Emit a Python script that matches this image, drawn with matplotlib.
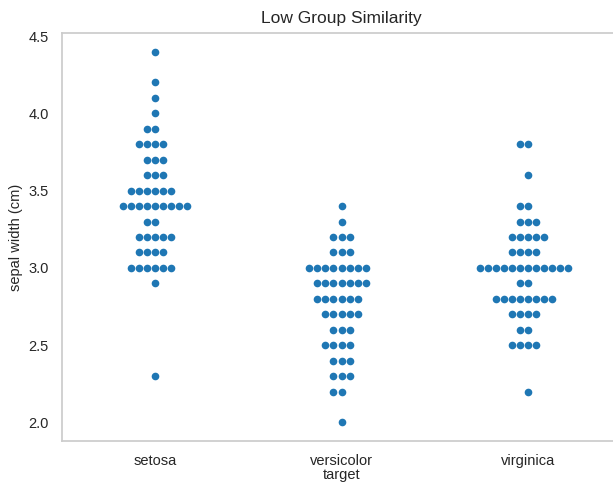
import pandas as pd
import matplotlib.pyplot as plt
import seaborn as sns

species = ["setosa", "versicolor", "virginica"]

setosa_sw = [3.5, 3.0, 3.2, 3.1, 3.6, 3.9, 3.4, 3.4, 2.9, 3.1, 3.7, 3.4, 3.0, 3.0, 4.0,
             4.4, 3.9, 3.5, 3.8, 3.8, 3.4, 3.7, 3.6, 3.3, 3.4, 3.0, 3.4, 3.5, 3.4, 3.2,
             3.1, 3.4, 4.1, 4.2, 3.1, 3.2, 3.5, 3.6, 3.0, 3.4, 3.5, 2.3, 3.2, 3.5, 3.8,
             3.0, 3.8, 3.2, 3.7, 3.3]
versicolor_sw = [3.2, 3.2, 3.1, 2.3, 2.8, 2.8, 3.3, 2.4, 2.9, 2.7, 2.0, 3.0, 2.2, 2.9, 2.9,
                 3.1, 3.0, 2.7, 2.2, 2.5, 3.2, 2.8, 2.5, 2.8, 2.9, 3.0, 2.8, 3.0, 2.9, 2.6,
                 2.4, 2.4, 2.7, 2.7, 3.0, 3.4, 3.1, 2.3, 3.0, 2.5, 2.6, 3.0, 2.6, 2.3, 2.7,
                 3.0, 2.9, 2.9, 2.5, 2.8]
virginica_sw = [3.3, 2.7, 3.0, 2.9, 3.0, 3.0, 2.5, 2.9, 2.5, 3.6, 3.2, 2.7, 3.0, 2.5, 2.8,
                3.2, 3.0, 3.8, 2.6, 2.2, 3.2, 2.8, 2.8, 2.7, 3.3, 3.2, 2.8, 3.0, 2.8, 3.0,
                2.8, 3.8, 2.8, 2.8, 2.6, 3.0, 3.4, 3.1, 3.0, 3.1, 3.1, 3.1, 2.7, 3.2, 3.3,
                3.0, 2.5, 3.0, 3.4, 3.0]

df = pd.DataFrame({
    "target": [species[0]] * len(setosa_sw) + [species[1]] * len(versicolor_sw)
              + [species[2]] * len(virginica_sw),
    "sepal width (cm)": setosa_sw + versicolor_sw + virginica_sw,
})

sns.set_theme(style="whitegrid")
plt.rcParams["font.family"] = ["Liberation Sans", "DejaVu Sans"]

fig = plt.figure(figsize=(6.13, 4.83), dpi=100)
ax = fig.add_axes([62 / 613, 42 / 483, 559 / 613, 408 / 483])
sns.swarmplot(data=df, x="target", y="sepal width (cm)", order=species,
              size=5.5, color="#1f77b4", ax=ax)
ax.grid(False)
ax.set_title("Low Group Similarity", fontsize=12.5, pad=7)
ax.set_ylim(1.88, 4.52)
ax.tick_params(labelsize=10.5)
ax.set_xlabel("target", fontsize=10.5, labelpad=0)
ax.set_ylabel("sepal width (cm)", fontsize=10.5)

fig.savefig("out.png", dpi=100)
